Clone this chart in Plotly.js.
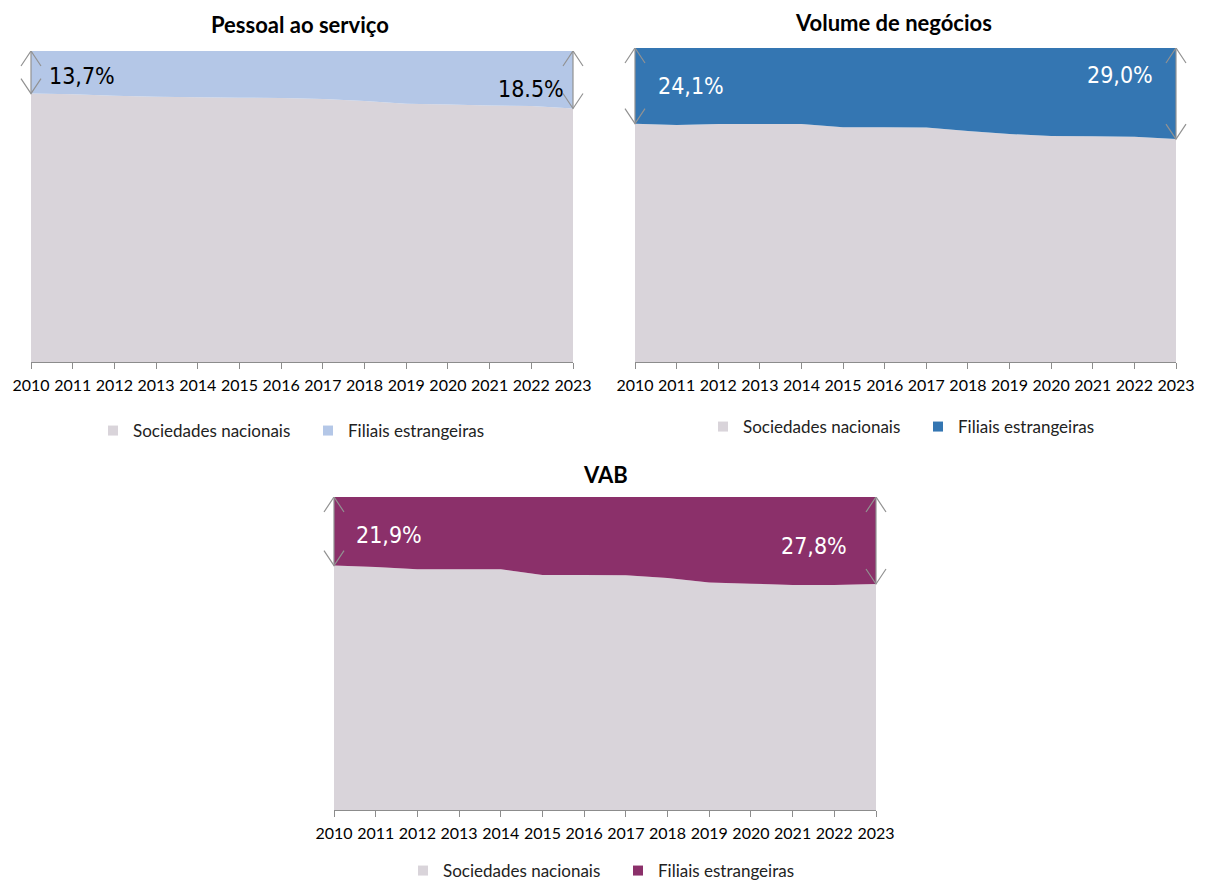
<!DOCTYPE html>
<html><head><meta charset="utf-8">
<script src="https://cdn.plot.ly/plotly-3.0.1.min.js"></script>
<style>html,body{margin:0;padding:0;background:#fff;overflow:hidden}#chart{width:1207px;height:883px}</style>
</head><body><div id="chart"></div>
<script>
// ---- data ----
const years = [2010,2011,2012,2013,2014,2015,2016,2017,2018,2019,2020,2021,2022,2023];
const yearLabels = ["2010","2011","2012","2013","2014","2015","2016","2017","2018","2019","2020","2021","2022","2023"];
const seriesNames = ["Sociedades nacionais", "Filiais estrangeiras"];
const chartTitles = ["Pessoal ao serviço", "Volume de negócios", "VAB"];

const pessoalNacionais = [86.3,86.1,85.6,85.3,85.1,85.0,84.9,84.6,83.9,83.0,82.8,82.5,82.3,81.5];
const pessoalFiliais   = [13.7,13.9,14.4,14.7,14.9,15.0,15.1,15.4,16.1,17.0,17.2,17.5,17.7,18.5];

const volumeNacionais  = [75.9,75.5,75.8,75.8,75.8,74.8,74.8,74.7,73.6,72.6,72.0,71.9,71.7,71.0];
const volumeFiliais    = [24.1,24.5,24.2,24.2,24.2,25.2,25.2,25.3,26.4,27.4,28.0,28.1,28.3,29.0];

const vabNacionais     = [78.1,77.6,76.9,76.9,76.9,75.1,75.1,75.0,74.1,72.7,72.3,71.9,71.9,72.2];
const vabFiliais       = [21.9,22.4,23.1,23.1,23.1,24.9,24.9,25.0,25.9,27.3,27.7,28.1,28.1,27.8];

const startLabels = ["13,7%", "24,1%", "21,9%"];
const endLabels   = ["18.5%", "29,0%", "27,8%"];

// ---- styles ----
const W = 1207, H = 883;
const px = v => v / W;
const py = v => 1 - v / H;
const nacColor = "#d9d4da";
const filColors = ["#b4c7e7", "#3476b2", "#8b306a"];
const labelColors = ["#000000", "#ffffff", "#ffffff"];
const arrowColor = "#929292";
const baseFont = "Lato, 'Liberation Sans', sans-serif";
const tickFont = {family: baseFont, size: 16, color: "#000"};

const panels = [
  {nac: pessoalNacionais, fil: pessoalFiliais, x: [31, 573], y: [51, 362], sfx: "",
   title: [300, 25], legend: [308, 431], lab: [[47, 76], [566, 89]]},
  {nac: volumeNacionais, fil: volumeFiliais, x: [635, 1176], y: [48, 362], sfx: "2",
   title: [893, 22], legend: [918, 427], lab: [[656, 86], [1155, 75]]},
  {nac: vabNacionais, fil: vabFiliais, x: [334, 876], y: [497, 810], sfx: "3",
   title: [605, 474], legend: [618, 871], lab: [[354, 535], [849, 546]]}
];

const traces = [];
const layout = {
  width: W, height: H,
  margin: {l: 0, r: 0, t: 0, b: 0, autoexpand: false},
  paper_bgcolor: "#fff", plot_bgcolor: "rgba(0,0,0,0)",
  showlegend: true,
  annotations: [],
  shapes: []
};

panels.forEach((p, i) => {
  const xa = "x" + p.sfx, ya = "y" + p.sfx;
  const lg = "legend" + p.sfx;
  traces.push({x: years, y: p.nac, xaxis: xa, yaxis: ya, stackgroup: "s" + i, mode: "none",
               fillcolor: nacColor, name: seriesNames[0], showlegend: false, hoverinfo: "skip"});
  traces.push({x: years, y: p.fil, xaxis: xa, yaxis: ya, stackgroup: "s" + i, mode: "none",
               fillcolor: filColors[i], name: seriesNames[1], showlegend: false, hoverinfo: "skip"});
  // legend entries (small squares)
  [nacColor, filColors[i]].forEach((c, k) => {
    traces.push({x: [null], y: [null], xaxis: xa, yaxis: ya, mode: "markers",
                 marker: {symbol: "square", size: 10, color: c}, name: seriesNames[k],
                 legend: lg, showlegend: true, hoverinfo: "skip"});
  });

  layout["xaxis" + p.sfx] = {
    domain: [px(p.x[0]), px(p.x[1])], anchor: ya, range: [years[0], years[years.length - 1]],
    tickmode: "array", tickvals: years, ticktext: yearLabels,
    ticks: "outside", ticklen: 6, tickcolor: "#8c8c8c", tickwidth: 1,
    showline: true, linecolor: "#8c8c8c", linewidth: 1,
    showgrid: false, zeroline: false, tickfont: tickFont, ticklabelstandoff: 3, fixedrange: true
  };
  layout["yaxis" + p.sfx] = {
    domain: [py(p.y[1]), py(p.y[0])], anchor: xa, range: [0, 100],
    visible: false, showgrid: false, zeroline: false, fixedrange: true
  };
  layout[lg] = {
    orientation: "h", x: px(p.legend[0]), y: py(p.legend[1]), xanchor: "center", yanchor: "middle",
    font: {family: baseFont, size: 17, color: "#222"},
    bgcolor: "rgba(0,0,0,0)", itemwidth: 30, traceorder: "normal",
    entrywidth: 170, entrywidthmode: "pixels"
  };

  // title
  layout.annotations.push({
    text: "<b>" + chartTitles[i] + "</b>", xref: "paper", yref: "paper",
    x: px(p.title[0]), y: py(p.title[1]), xanchor: "center", yanchor: "middle", showarrow: false,
    font: {family: baseFont, size: 22, color: "#000"}
  });
  // start / end labels
  const labFont = {family: "'DejaVu Sans Condensed', 'DejaVu Sans', sans-serif", size: 23, color: labelColors[i]};
  layout.annotations.push({text: startLabels[i], xref: "paper", yref: "paper",
    x: px(p.lab[0][0]), y: py(p.lab[0][1]), xanchor: "left", yanchor: "middle", showarrow: false, font: labFont});
  layout.annotations.push({text: endLabels[i], xref: "paper", yref: "paper",
    x: px(p.lab[1][0]), y: py(p.lab[1][1]), xanchor: "right", yanchor: "middle", showarrow: false, font: labFont});

  // double-headed arrows at first (left edge) and last (right edge) year spanning the foreign share
  const xd = xa + " domain";
  [[0, 0], [years.length - 1, 1]].forEach(([k, edge]) => {
    const ln = {color: arrowColor, width: 1.2};
    layout.shapes.push({type: "line", xref: xd, yref: ya, x0: edge, x1: edge, y0: 100, y1: p.nac[k], line: ln, layer: "above"});
    layout.shapes.push({type: "path", xref: xd, yref: ya, xsizemode: "pixel", ysizemode: "pixel",
      xanchor: edge, yanchor: 100, path: "M-10,-15L0,0L10,-15", line: ln, layer: "above"});
    layout.shapes.push({type: "path", xref: xd, yref: ya, xsizemode: "pixel", ysizemode: "pixel",
      xanchor: edge, yanchor: p.nac[k], path: "M-10,15L0,0L10,15", line: ln, layer: "above"});
  });
});

Plotly.newPlot("chart", traces, layout, {displayModeBar: false, staticPlot: true});
</script>
</body></html>
